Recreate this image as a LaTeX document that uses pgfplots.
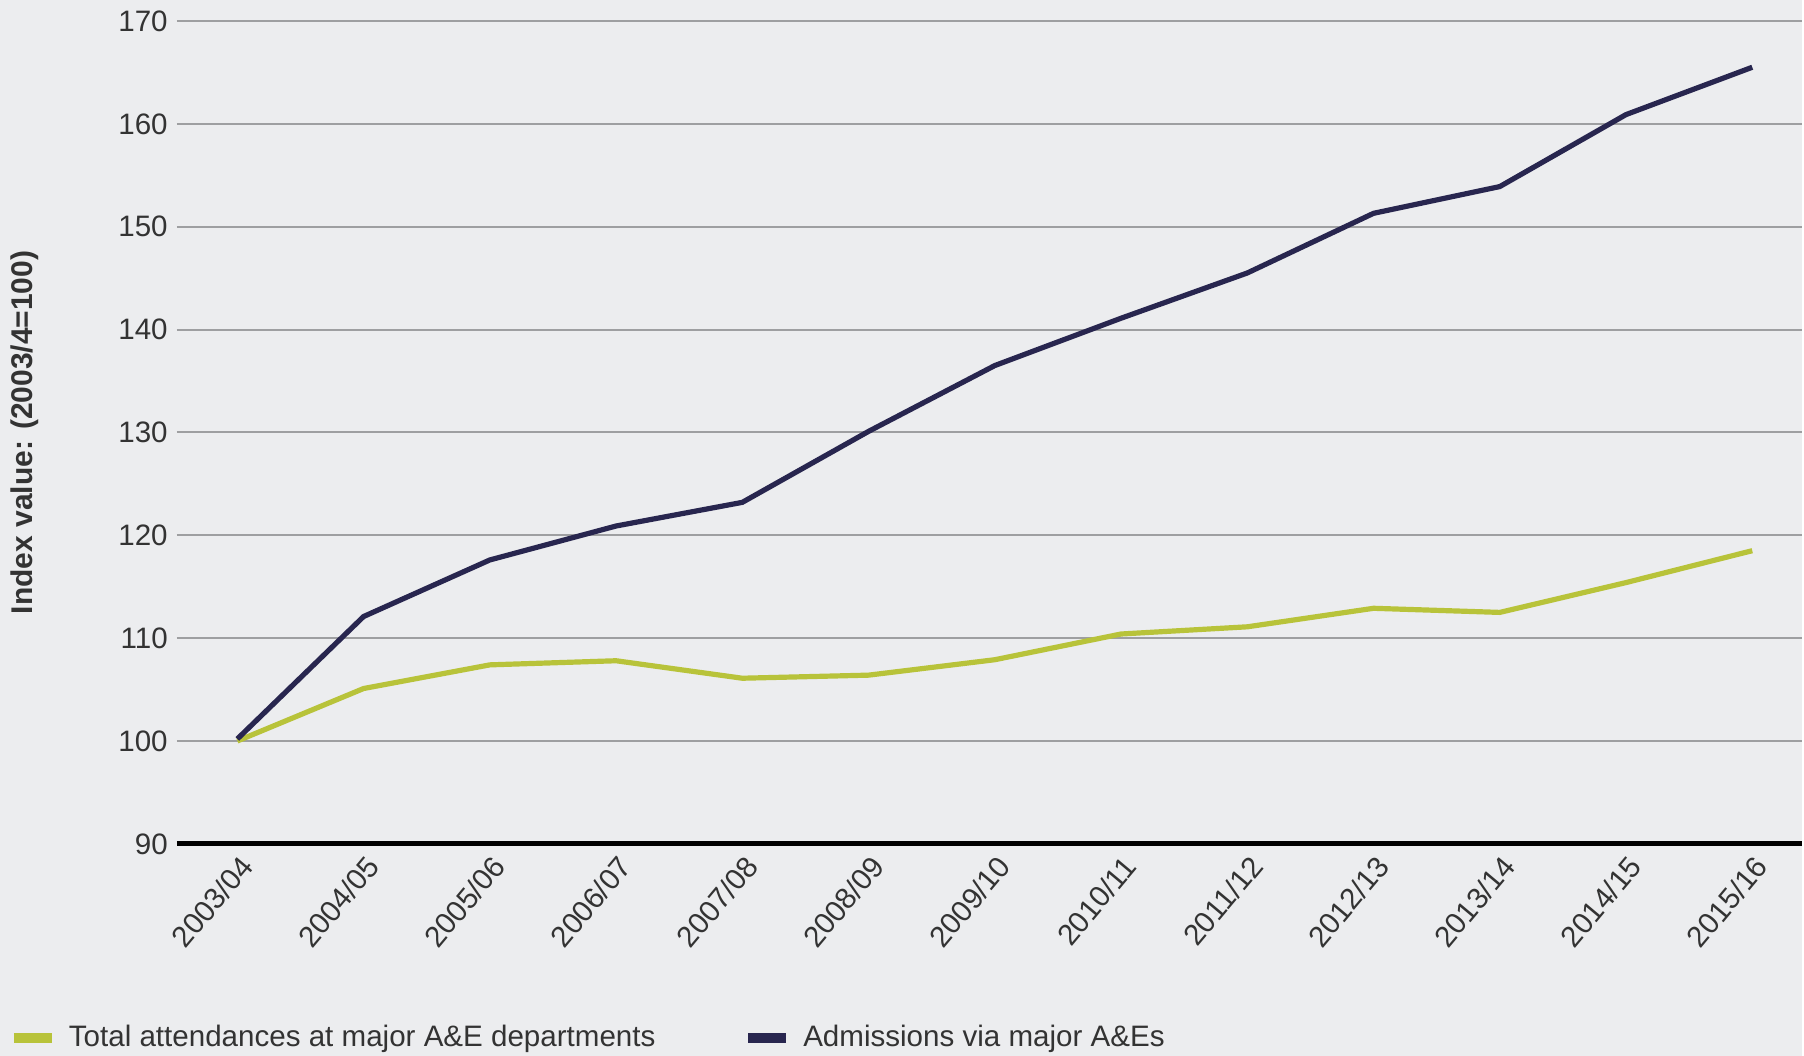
\documentclass[border=0pt]{standalone}
\usepackage{fontspec}
\setmainfont{Liberation Sans}
\usepackage{pgfplots}
\pgfplotsset{compat=1.18}
\definecolor{bgc}{HTML}{ECEDEF}
\definecolor{navyc}{HTML}{28264F}
\definecolor{greenc}{HTML}{B8C33A}
\definecolor{gridc}{HTML}{9E9FA1}
\definecolor{txtc}{HTML}{333333}
\begin{document}
\begin{tikzpicture}
\fill[bgc] (-88.5pt,-106pt) rectangle (813.5pt,422.5pt);
\begin{axis}[
  at={(0,0)}, anchor=south west,
  scale only axis, width=813.5pt, height=412pt,
  xmin=-0.48, xmax=12.39, ymin=90, ymax=170,
  ytick={90,100,...,170},
  xtick={0,...,12},
  xticklabels={2003/04,2004/05,2005/06,2006/07,2007/08,2008/09,2009/10,2010/11,2011/12,2012/13,2013/14,2014/15,2015/16},
  axis x line=bottom, axis y line=left,
  x axis line style={line width=2.5pt, black, -},
  y axis line style={draw=none},
  major tick length=0pt,
  ymajorgrids, grid style={gridc, line width=1pt},
  /pgf/number format/assume math mode=true,
  yticklabel style={font=\fontsize{14.8}{17}\selectfont, text=txtc, xshift=-1pt},
  xticklabel style={font=\fontsize{14.8}{17}\selectfont, text=txtc, rotate=50, anchor=north east},
  ylabel={\textbf{Index value: (2003/4=100)}},
  ylabel style={at={(axis description cs:-0.0934,0.5)}, anchor=center, font=\fontsize{15}{18}\selectfont, text=txtc},
  legend columns=2,
  legend style={at={(axis description cs:-0.1035,-0.2354)}, anchor=west, draw=none, fill=none,
    font=\fontsize{14.8}{18}\selectfont, text=txtc, inner sep=0pt, nodes={inner sep=0pt},
    /tikz/every odd column/.append style={column sep=6pt},
    /tikz/every even column/.append style={column sep=44pt}},
  legend image code/.code={\draw[line width=5pt] (0pt,0pt) -- (19pt,0pt);},
]
\addplot[greenc, line width=2.6pt] coordinates {
(0,100) (1,105.1) (2,107.4) (3,107.8) (4,106.1) (5,106.4) (6,107.9) (7,110.4) (8,111.1) (9,112.9) (10,112.5) (11,115.4) (12,118.5)};
\addlegendentry{Total attendances at major A\&E departments}
\addplot[navyc, line width=2.6pt] coordinates {
(0,100.2) (1,112.1) (2,117.6) (3,120.9) (4,123.2) (5,130.1) (6,136.5) (7,141.1) (8,145.5) (9,151.3) (10,153.9) (11,160.9) (12,165.5)};
\addlegendentry{Admissions via major A\&Es}
\end{axis}
\end{tikzpicture}
\end{document}
